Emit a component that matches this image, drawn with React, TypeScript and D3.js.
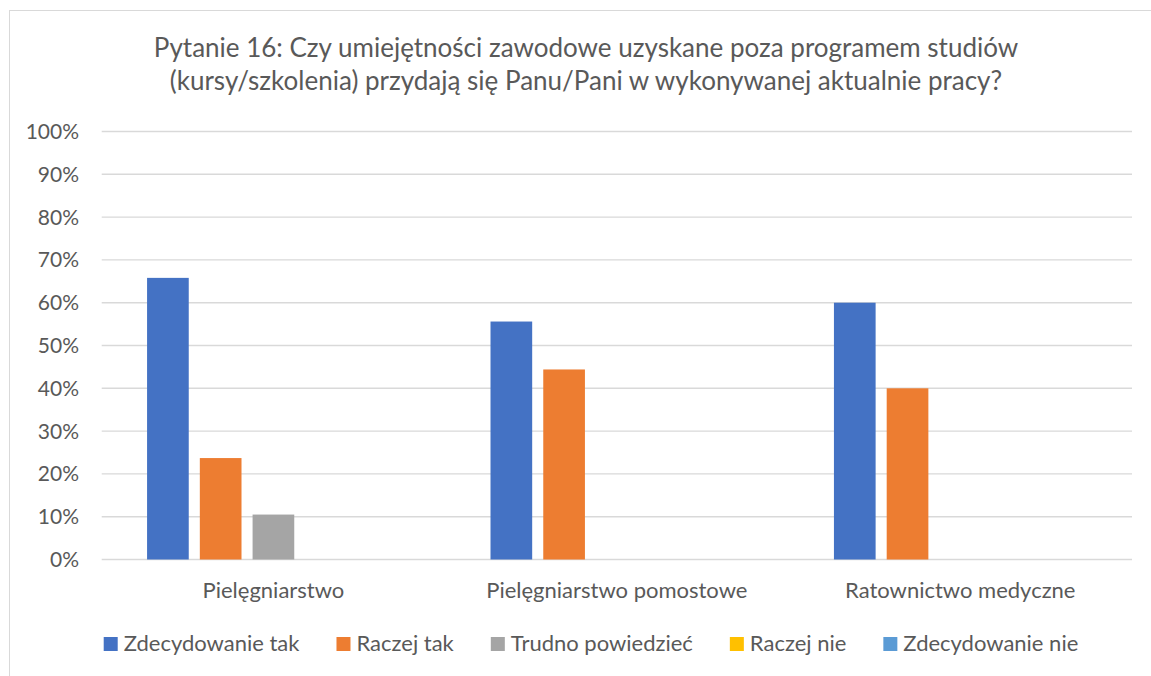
import React, { useEffect, useRef } from 'react';
import * as d3 from 'd3';

const titleLines = [
  'Pytanie 16: Czy umiejętności zawodowe uzyskane poza programem studiów',
  '(kursy/szkolenia) przydają się Panu/Pani w wykonywanej aktualnie pracy?',
];
const categories = ['Pielęgniarstwo', 'Pielęgniarstwo pomostowe', 'Ratownictwo medyczne'];
const seriesNames = ['Zdecydowanie tak', 'Raczej tak', 'Trudno powiedzieć', 'Raczej nie', 'Zdecydowanie nie'];
const zdecydowanieTak = [65.8, 55.6, 60];
const raczejTak = [23.7, 44.4, 40];
const trudnoPowiedziec = [10.5, 0, 0];
const raczejNie = [0, 0, 0];
const zdecydowanieNie = [0, 0, 0];
const seriesColors = ['#4472C4', '#ED7D31', '#A5A5A5', '#FFC000', '#5B9BD5'];
const yTicks = [0, 10, 20, 30, 40, 50, 60, 70, 80, 90, 100];

const W = 1151;
const H = 676;
const FONT = 'Lato, "Open Sans", sans-serif';
const TEXT = '#595959';

const App = () => {
  const svgRef = useRef<SVGSVGElement>(null);

  useEffect(() => {
    const svg = d3.select(svgRef.current);
    svg.selectAll('*').remove();

    const values = [zdecydowanieTak, raczejTak, trudnoPowiedziec, raczejNie, zdecydowanieNie];
    const margin = { left: 101.7, right: 1132, top: 131.5, bottom: 559.5 };

    // chart frame
    svg.append('rect')
      .attr('x', 9.5).attr('y', 10.5)
      .attr('width', 1160).attr('height', 680)
      .attr('fill', '#fff').attr('stroke', '#D9D9D9').attr('stroke-width', 1);

    // title
    svg.append('g').selectAll('text')
      .data(titleLines)
      .enter()
      .append('text')
      .attr('x', 586)
      .attr('y', (d, i) => 57 + i * 33)
      .attr('text-anchor', 'middle')
      .attr('font-family', FONT)
      .attr('font-size', 26)
      .attr('fill', TEXT)
      .text(d => d);

    const y = d3.scaleLinear().domain([0, 100]).range([margin.bottom, margin.top]);
    const x0 = d3.scaleBand().domain(categories).range([margin.left, margin.right]);
    const x1 = d3.scaleBand().domain(seriesNames).range([0, x0.bandwidth()])
      .paddingInner(0.21).paddingOuter(0.86);

    // gridlines
    svg.append('g').selectAll('line')
      .data(yTicks)
      .enter()
      .append('line')
      .attr('x1', margin.left).attr('x2', margin.right)
      .attr('y1', d => y(d)).attr('y2', d => y(d))
      .attr('stroke', '#D9D9D9').attr('stroke-width', 1.4);

    // y labels
    svg.append('g').selectAll('text')
      .data(yTicks)
      .enter()
      .append('text')
      .attr('x', 79)
      .attr('y', d => y(d))
      .attr('dy', '0.36em')
      .attr('text-anchor', 'end')
      .attr('font-family', FONT)
      .attr('font-size', 21)
      .attr('fill', TEXT)
      .text(d => `${d}%`);

    // bars
    const groups = svg.append('g').selectAll('g')
      .data(categories)
      .enter()
      .append('g')
      .attr('transform', d => `translate(${x0(d)},0)`);
    groups.selectAll('rect')
      .data((c, ci) => seriesNames.map((s, si) => ({ s, si, v: values[si][ci] })))
      .enter()
      .filter(d => d.v > 0)
      .append('rect')
      .attr('x', d => x1(d.s)!)
      .attr('y', d => y(d.v))
      .attr('width', x1.bandwidth())
      .attr('height', d => y(0) - y(d.v))
      .attr('fill', d => seriesColors[d.si]);

    // category labels
    svg.append('g').selectAll('text')
      .data(categories)
      .enter()
      .append('text')
      .attr('x', d => x0(d)! + x0.bandwidth() / 2)
      .attr('y', 598)
      .attr('text-anchor', 'middle')
      .attr('font-family', FONT)
      .attr('font-size', 22)
      .attr('fill', TEXT)
      .text(d => d);

    // legend
    const legend = svg.append('g');
    const items = legend.selectAll('g')
      .data(seriesNames)
      .enter()
      .append('g');
    items.append('rect')
      .attr('y', 637).attr('width', 14).attr('height', 14)
      .attr('fill', (d, i) => seriesColors[i]);
    const labels = items.append('text')
      .attr('x', 20).attr('y', 651)
      .attr('font-family', FONT)
      .attr('font-size', 22)
      .attr('fill', TEXT)
      .text(d => d);
    const widths = labels.nodes().map(n => (n as SVGTextElement).getComputedTextLength() + 20);
    const gap = 37;
    const total = d3.sum(widths) + gap * (widths.length - 1);
    let cx = 591 - total / 2;
    items.attr('transform', (d, i) => {
      const t = `translate(${cx},0)`;
      cx += widths[i] + gap;
      return t;
    });
  }, []);

  return (
    <svg
      ref={svgRef}
      width={W}
      height={H}
      style={{ position: 'absolute', left: 0, top: 0, background: '#fff' }}
    />
  );
};

export default App;
